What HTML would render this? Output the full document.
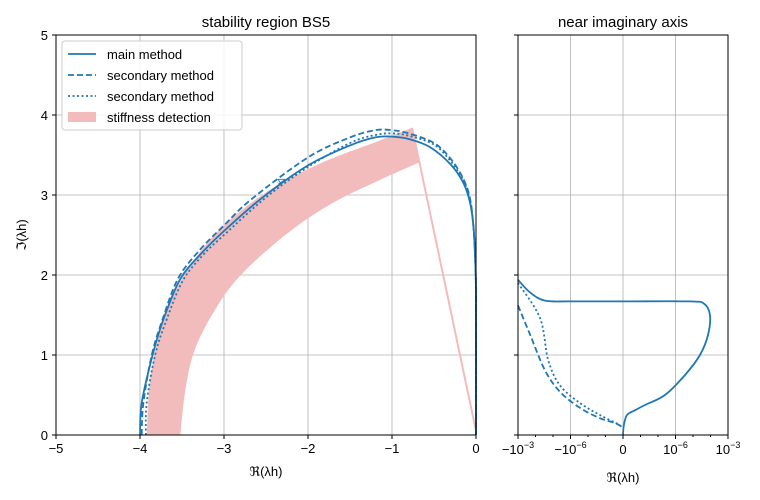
<!DOCTYPE html>
<html><head><meta charset="utf-8"><style>
body{margin:0;background:#fff;}
svg{display:block;font-family:"Liberation Sans","DejaVu Sans",sans-serif;}
</style></head><body>
<svg id="fig" width="760" height="500" viewBox="0 0 760 500">
<rect width="760" height="500" fill="#fff"/>
<g id="left"></g>
<g id="right"></g>
</svg>
<script>
// ---- left panel data ----
const xTicksL = [-5,-4,-3,-2,-1,0];
const xTickLabelsL = ["\u22125","\u22124","\u22123","\u22122","\u22121","0"];
const yTicks = [0,1,2,3,4,5];
const yTickLabels = ["0","1","2","3","4","5"];
const mainX = [-4,-3.98,-3.85,-3.72,-3.52,-3.27,-3.0,-2.54,-2.0,-1.5,-1.2,-1.0,-0.8,-0.55,-0.3,-0.15,-0.07,-0.03,-0.01,0,0];
const mainY = [0,0.4,1.0,1.45,1.95,2.27,2.55,2.97,3.37,3.62,3.72,3.73,3.7,3.6,3.38,3.15,2.9,2.6,2.2,1.7,0];
const dashX = [-3.98,-3.96,-3.86,-3.73,-3.55,-3.3,-3.0,-2.67,-2.0,-1.5,-1.2,-1.0,-0.8,-0.5,-0.3,-0.15,-0.07,-0.03,-0.01,0,0];
const dashY = [0,0.4,1.0,1.45,1.95,2.3,2.62,2.95,3.47,3.72,3.81,3.81,3.77,3.65,3.45,3.2,2.95,2.6,2.2,1.7,0];
const dotX = [-3.93,-3.92,-3.82,-3.68,-3.49,-3.25,-3.0,-2.5,-2.0,-1.5,-1.2,-1.0,-0.8,-0.5,-0.3,-0.15,-0.07,-0.03,-0.01,0,0];
const dotY = [0,0.4,1.0,1.45,1.93,2.25,2.5,2.97,3.35,3.65,3.75,3.77,3.74,3.63,3.42,3.18,2.92,2.6,2.2,1.7,0];
const bandOuterX = [-3.92,-3.88,-3.76,-3.6,-3.35,-2.95,-2.4,-1.8,-1.2,-0.76];
const bandOuterY = [0,0.69,1.31,1.75,2.2,2.67,3.1,3.42,3.66,3.84];
const bandInnerX = [-3.52,-3.46,-3.35,-3.11,-2.8,-2.27,-1.74,-1.14,-0.67];
const bandInnerY = [0,0.56,1.06,1.56,2.0,2.5,2.88,3.19,3.41];
const stiffLineX = [-0.76,0];
const stiffLineY = [3.84,0.05];
// ---- right panel data (real values, symlog axis) ----
const xTicksR = [-1e-3,-1e-6,0,1e-6,1e-3];
const xTickLabelsR = [["\u221210","\u22123"],["\u221210","\u22126"],["0",""],["10","\u22126"],["10","\u22123"]];
const minorTicksR = [-1e-4,-1e-5,-1e-7,-1e-8,1e-8,1e-7,1e-5,1e-4];
const rMainX = [-1e-3,-2e-4,-2.9e-5,-1e-6,0,6.7e-6,4.3e-5,9.3e-5,7.2e-5,2.5e-5,3.5e-6,2.5e-7,1.8e-8,6.9e-9,2.3e-9,0.5e-9,0];
const rMainY = [1.94,1.78,1.68,1.67,1.67,1.67,1.64,1.5,1.25,1.0,0.75,0.5,0.375,0.31,0.25,0.125,0];
const rDashX = [-1e-3,-2e-4,-2.9e-5,-4e-6,-2.9e-7,-2.1e-8,-4.6e-9,-0.5e-9];
const rDashY = [1.62,1.25,0.81,0.54,0.34,0.21,0.15,0.1];
const rDotX = [-1e-3,-5.5e-5,-1.9e-5,-4e-6,-2.9e-7,-2.1e-8,-1.7e-9];
const rDotY = [1.9,1.46,0.94,0.62,0.4,0.25,0.125];

const NS="http://www.w3.org/2000/svg";
const BLUE="#1f77b4", PINK="#f2bcbc";
function el(parent,tag,attrs,text){const e=document.createElementNS(NS,tag);for(const k in attrs)e.setAttribute(k,attrs[k]);if(text!==undefined)e.textContent=text;parent.appendChild(e);return e;}
const L={x0:56,x1:476,y0:435,y1:35}, R={x0:518,x1:728};
const sxL=v=>L.x0+(v+5)/5*(L.x1-L.x0);
const sy=v=>L.y0-v/5*(L.y0-L.y1);
function symU(v){const lt=1e-8,c=1/3;const a=Math.abs(v);if(a<=lt)return v/lt*c;return Math.sign(v)*(c+Math.log10(a/lt)/3);}
const sxR=v=>(R.x0+R.x1)/2+symU(v)*(R.x1-R.x0)/4;
function toPx(xs,ys,fx){return xs.map((x,i)=>[fx(x),sy(ys[i])]);}
function smooth(p,start){let d=(start?'M':'L')+p[0][0].toFixed(2)+','+p[0][1].toFixed(2);
 for(let i=0;i<p.length-1;i++){const p0=p[Math.max(i-1,0)],p1=p[i],p2=p[i+1],p3=p[Math.min(i+2,p.length-1)];
  const c1=[p1[0]+(p2[0]-p0[0])/6,p1[1]+(p2[1]-p0[1])/6],c2=[p2[0]-(p3[0]-p1[0])/6,p2[1]-(p3[1]-p1[1])/6];
  d+='C'+c1.map(v=>v.toFixed(2)).join(',')+' '+c2.map(v=>v.toFixed(2)).join(',')+' '+p2[0].toFixed(2)+','+p2[1].toFixed(2);}
 return d;}

const gl=document.getElementById('left'), gr=document.getElementById('right');
const gridL=el(gl,'g',{});


xTicksL.forEach(t=>el(gridL,'line',{x1:sxL(t),x2:sxL(t),y1:L.y1,y2:L.y0,stroke:'#b0b0b0','stroke-width':0.8}));
yTicks.forEach(t=>el(gridL,'line',{x1:L.x0,x2:L.x1,y1:sy(t),y2:sy(t),stroke:'#b0b0b0','stroke-width':0.8}));
const gridR=el(gr,'g',{});


xTicksR.forEach(t=>el(gridR,'line',{x1:sxR(t),x2:sxR(t),y1:L.y1,y2:L.y0,stroke:'#b0b0b0','stroke-width':0.8}));
yTicks.forEach(t=>el(gridR,'line',{x1:R.x0,x2:R.x1,y1:sy(t),y2:sy(t),stroke:'#b0b0b0','stroke-width':0.8}));

const bandD=smooth(toPx(bandOuterX,bandOuterY,sxL),true)+smooth(toPx(bandInnerX.slice().reverse(),bandInnerY.slice().reverse(),sxL),false)+'Z';
const band=el(gl,'path',{d:bandD,fill:PINK,stroke:'none'});


const sl=el(gl,'path',{d:smooth(toPx(stiffLineX,stiffLineY,sxL),true),fill:'none',stroke:PINK,'stroke-width':2});


const m=el(gl,'path',{d:smooth(toPx(mainX,mainY,sxL),true),fill:'none',stroke:BLUE,'stroke-width':1.8});


const d=el(gl,'path',{d:smooth(toPx(dashX,dashY,sxL),true),fill:'none',stroke:BLUE,'stroke-width':1.8,'stroke-dasharray':'6,3'});


const o=el(gl,'path',{d:smooth(toPx(dotX,dotY,sxL),true),fill:'none',stroke:BLUE,'stroke-width':1.8,'stroke-dasharray':'2,2.5'});


const lab=el(gl,'text',{x:0,y:0,fill:BLUE,'font-size':12,transform:'translate('+sxL(-2.36)+','+sy(3.15)+') rotate(55)','text-anchor':'middle'},'4');



const rm=el(gr,'path',{d:smooth(toPx(rMainX,rMainY,sxR),true),fill:'none',stroke:BLUE,'stroke-width':1.8});


const rd=el(gr,'path',{d:smooth(toPx(rDashX,rDashY,sxR),true),fill:'none',stroke:BLUE,'stroke-width':1.8,'stroke-dasharray':'6,3'});


const ro=el(gr,'path',{d:smooth(toPx(rDotX,rDotY,sxR),true),fill:'none',stroke:BLUE,'stroke-width':1.8,'stroke-dasharray':'2,2.5'});



const fl=el(gl,'rect',{x:L.x0,y:L.y1,width:L.x1-L.x0,height:L.y0-L.y1,fill:'none',stroke:'#000','stroke-width':1});


const fr=el(gr,'rect',{x:R.x0,y:L.y1,width:R.x1-R.x0,height:L.y0-L.y1,fill:'none',stroke:'#000','stroke-width':1});



xTicksL.forEach((t,i)=>{el(gl,'line',{x1:sxL(t),x2:sxL(t),y1:L.y0,y2:L.y0+4,stroke:'#000'});
 const tx=el(gl,'text',{x:sxL(t),y:L.y0+18,'font-size':13,'text-anchor':'middle'},xTickLabelsL[i]);
 
 });
yTicks.forEach((t,i)=>{el(gl,'line',{x1:L.x0-4,x2:L.x0,y1:sy(t),y2:sy(t),stroke:'#000'});
 const tx=el(gl,'text',{x:L.x0-8,y:sy(t)+5,'font-size':13,'text-anchor':'end'},yTickLabels[i]);
 
 
 el(gr,'line',{x1:R.x0-4,x2:R.x0,y1:sy(t),y2:sy(t),stroke:'#000'});});
xTicksR.forEach((t,i)=>{el(gr,'line',{x1:sxR(t),x2:sxR(t),y1:L.y0,y2:L.y0+4,stroke:'#000'});
 const tx=el(gr,'text',{x:sxR(t),y:L.y0+19,'font-size':13,'text-anchor':'middle'});
 
 
 const a=document.createElementNS(NS,'tspan');a.textContent=xTickLabelsR[i][0];tx.appendChild(a);
 if(xTickLabelsR[i][1]){const b=document.createElementNS(NS,'tspan');b.setAttribute('font-size',9);b.setAttribute('dy',-6);b.textContent=xTickLabelsR[i][1];tx.appendChild(b);}});
minorTicksR.forEach(t=>el(gr,'line',{x1:sxR(t),x2:sxR(t),y1:L.y0,y2:L.y0+2,stroke:'#000'}));

const t1=el(gl,'text',{x:266,y:27,'font-size':15,'text-anchor':'middle'},'stability region BS5');


const t2=el(gr,'text',{x:623,y:27,'font-size':15,'text-anchor':'middle'},'near imaginary axis');


const xl=el(gl,'text',{x:266,y:476,'font-size':13,'text-anchor':'middle'},'\u211c(\u03bbh)');


const xr=el(gr,'text',{x:623,y:482,'font-size':13,'text-anchor':'middle'},'\u211c(\u03bbh)');


const yl=el(gl,'text',{x:0,y:0,'font-size':13,'text-anchor':'middle',transform:'translate(26,235) rotate(-90)'},'\u2111(\u03bbh)');



const lg=el(gl,'g',{});


el(lg,'rect',{x:62,y:41,width:180,height:89,rx:3,fill:'#fff','fill-opacity':0.85,stroke:'#ccc'});
const entries=[['main method',null],['secondary method','6,3'],['secondary method','2,2.5'],['stiffness detection','band']];
entries.forEach((e,i)=>{const y=54+i*21;
 const g=el(lg,'g',{});
 
 
 if(e[1]==='band') el(g,'rect',{x:68,y:y-5,width:28,height:10,fill:PINK});
 else {const a={x1:68,x2:96,y1:y,y2:y,stroke:BLUE,'stroke-width':1.8};if(e[1])a['stroke-dasharray']=e[1];el(g,'line',a);}
 el(g,'text',{x:107,y:y+5,'font-size':13},e[0]);});
</script>
</body></html>
